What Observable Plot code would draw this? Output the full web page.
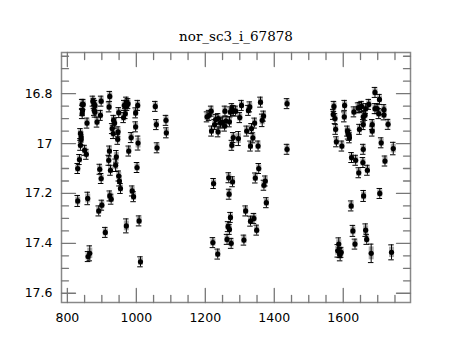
<!DOCTYPE html>
<html><head><meta charset="utf-8">
<script src="https://cdn.jsdelivr.net/npm/d3@7"></script>
<script src="https://cdn.jsdelivr.net/npm/@observablehq/plot@0.6"></script>
<style>body{margin:0;background:#fff}</style>
</head><body><div id="chart"></div>
<script>
const title = "nor_sc3_i_67878";
// [time, magnitude, error]
const season1 = [
[830,17.100,.020],[835,17.064,.020],[838,17.007,.020],[840,16.984,.020],[840,16.974,.020],[838,16.960,.020],
[843,16.843,.020],[846,16.843,.020],[844,16.867,.020],[843,16.880,.020],[857,16.918,.020],[850,17.027,.020],[855,17.043,.020],
[874,16.830,.020],[877,16.840,.020],[880,16.847,.020],[878,16.867,.020],[880,16.874,.020],[886,16.914,.020],[896,16.887,.020],[898,16.830,.020],
[894,17.103,.020],[898,17.140,.020],[923,16.811,.020],[921,16.853,.020],[934,16.907,.020],[937,16.918,.020],[930,16.940,.020],[933,16.960,.020],
[949,16.876,.020],[947,16.953,.020],[946,16.983,.020],[922,17.030,.020],[920,17.067,.020],[925,17.107,.020],[942,17.053,.025],[940,17.087,.025],
[949,17.130,.020],[951,17.150,.020],[954,17.180,.020],[963,16.896,.020],[968,16.880,.020],[965,16.847,.020],[971,16.834,.020],[976,16.840,.020],[973,16.847,.020],
[978,17.030,.020],[985,16.976,.020],[998,16.933,.020],[998,16.877,.020],[1004,16.847,.020],[1005,16.998,.028],[1002,17.096,.020],
[830,17.230,.022],[859,17.220,.025],[891,17.270,.020],[900,17.247,.020],[910,17.356,.020],[923,17.210,.020],[927,17.223,.020],[988,17.190,.020],[992,17.213,.020],
[971,17.330,.028],[1008,17.310,.020],[860,17.453,.020],[865,17.440,.030],[1012,17.474,.020],
[1055,16.851,.020],[1058,16.924,.020],[1086,16.907,.020],[1087,16.957,.020],[1060,17.017,.020]
];
const season2 = [
[1205,16.893,.020],[1211,16.887,.020],[1217,16.870,.020],[1218,16.950,.020],[1227,16.924,.020],[1230,16.904,.020],[1237,16.900,.020],[1237,16.953,.020],
[1244,16.918,.020],[1249,16.914,.020],[1257,16.870,.020],[1256,16.930,.020],[1260,16.910,.020],
[1270,16.913,.020],[1273,16.873,.020],[1277,16.860,.020],[1281,16.868,.020],[1288,16.870,.020],[1300,16.896,.020],[1305,16.847,.020],[1325,16.867,.020],[1329,16.853,.020],
[1360,16.834,.020],[1365,16.907,.025],[1369,16.890,.020],[1343,16.918,.020],[1334,16.940,.020],[1320,16.950,.020],[1338,16.977,.020],[1331,17.010,.020],[1353,17.010,.020],
[1281,16.976,.020],[1277,17.007,.020],[1296,16.980,.028],[1437,16.840,.020],[1437,17.023,.020],
[1224,17.160,.020],[1268,17.137,.020],[1279,17.153,.020],[1269,17.203,.020],[1355,17.100,.020],[1345,17.138,.020],[1374,17.150,.020],[1370,17.167,.020],[1377,17.237,.020],
[1317,17.270,.020],[1331,17.311,.020],[1341,17.300,.020],[1349,17.347,.020],[1273,17.296,.020],[1266,17.333,.020],[1270,17.344,.020],[1263,17.384,.020],[1275,17.400,.020],[1312,17.387,.020],
[1222,17.397,.020],[1236,17.443,.020]
];
const season3 = [
[1573,16.851,.020],[1571,16.883,.020],[1576,16.900,.020],[1578,16.943,.020],[1580,16.993,.020],[1596,17.010,.020],[1604,16.847,.020],[1603,16.893,.020],
[1612,16.950,.020],[1614,16.962,.020],[1617,16.967,.020],[1618,16.977,.020],[1631,16.873,.020],[1643,16.857,.020],[1648,16.855,.020],[1653,16.851,.020],
[1658,16.893,.020],[1663,16.887,.020],[1665,16.860,.020],[1647,16.943,.020],[1658,16.924,.020],[1674,16.843,.020],[1684,16.924,.020],[1684,16.950,.020],
[1692,16.795,.020],[1705,16.823,.020],[1692,16.860,.020],[1698,16.860,.020],[1703,16.880,.020],[1718,16.864,.020],[1718,16.885,.020],[1730,16.923,.020],
[1710,16.997,.020],[1745,17.020,.025],[1624,17.056,.020],[1636,17.067,.020],[1658,17.023,.020],[1657,17.076,.020],[1645,17.117,.020],[1670,17.107,.020],
[1721,17.070,.020],[1659,17.210,.022],[1706,17.200,.020],[1623,17.250,.020],[1628,17.350,.022],[1634,17.403,.020],[1665,17.347,.025],[1668,17.384,.020],
[1587,17.403,.025],[1584,17.430,.025],[1590,17.437,.020],[1594,17.436,.020],[1591,17.445,.025],[1681,17.440,.037],[1740,17.436,.030]
];
const xMajor = [800,1000,1200,1400,1600];
const xMinor = [850,900,950,1050,1100,1150,1250,1300,1350,1450,1500,1550,1650,1700,1750];
const yMajor = [16.8,17,17.2,17.4,17.6];
const yMinor = [16.65,16.7,16.75,16.85,16.9,16.95,17.05,17.1,17.15,17.25,17.3,17.35,17.45,17.5,17.55];
const xDomain = [783, 1795];
const yDomain = [16.635, 17.637];

const obs = [...season1, ...season2, ...season3].map(([t,m,e]) => ({t, m, e}));
const tickShape = {draw(ctx, l) { ctx.moveTo(0, 0); ctx.lineTo(0, -l); }};
const ts = {stroke: "#777", strokeWidth: 1.3, shape: tickShape, anchor: "start"};
function ticksX(vals, len) {
  return [
    Plot.vector(vals, {x: d => d, y: yDomain[1], rotate: 0, length: len, ...ts}),
    Plot.vector(vals, {x: d => d, y: yDomain[0], rotate: 180, length: len, ...ts})
  ];
}
function ticksY(vals, len) {
  return [
    Plot.vector(vals, {y: d => d, x: xDomain[0], rotate: 90, length: len, ...ts}),
    Plot.vector(vals, {y: d => d, x: xDomain[1], rotate: -90, length: len, ...ts})
  ];
}
const chart = Plot.plot({
  width: 460, height: 340,
  marginLeft: 61, marginRight: 50, marginTop: 52, marginBottom: 38,
  style: {fontFamily: "DejaVu Sans", background: "#fff", color: "#000"},
  x: {domain: xDomain, label: null},
  y: {domain: yDomain, reverse: true, label: null},
  marks: [
    Plot.ruleX(obs, {x: "t", y1: d => d.m - d.e * 0.7, y2: d => d.m + d.e * 0.7, stroke: "#aaa", strokeWidth: 5}),
    Plot.ruleX(obs, {x: "t", y1: d => d.m - d.e, y2: d => d.m + d.e, stroke: "#000", strokeWidth: 1}),
    Plot.ruleY(obs, {y: d => d.m - d.e, x1: d => d.t - 8, x2: d => d.t + 8, stroke: "#000", strokeWidth: 1}),
    Plot.ruleY(obs, {y: d => d.m + d.e, x1: d => d.t - 8, x2: d => d.t + 8, stroke: "#000", strokeWidth: 1}),
    Plot.dot(obs, {x: "t", y: "m", r: 2.6, fill: "#000"}),
    Plot.frame({stroke: "#888", strokeWidth: 1.5}),
    ...ticksX(xMajor, 14), ...ticksX(xMinor, 7),
    ...ticksY(yMajor, 14), ...ticksY(yMinor, 7),
    Plot.axisY(yMajor, {anchor: "left", tickSize: 0, tickPadding: 9, fontSize: 12.5, label: null, tickFormat: d => String(d)}),
    Plot.axisX(xMajor, {anchor: "bottom", tickSize: 0, tickPadding: 11, fontSize: 12.5, label: null, tickFormat: d => String(d)}),
    Plot.text([title], {frameAnchor: "top", dy: -21, fontFamily: "DejaVu Serif", fontSize: 13.5, fill: "#000"})
  ]
});
document.getElementById("chart").appendChild(chart);
</script>
</body></html>
